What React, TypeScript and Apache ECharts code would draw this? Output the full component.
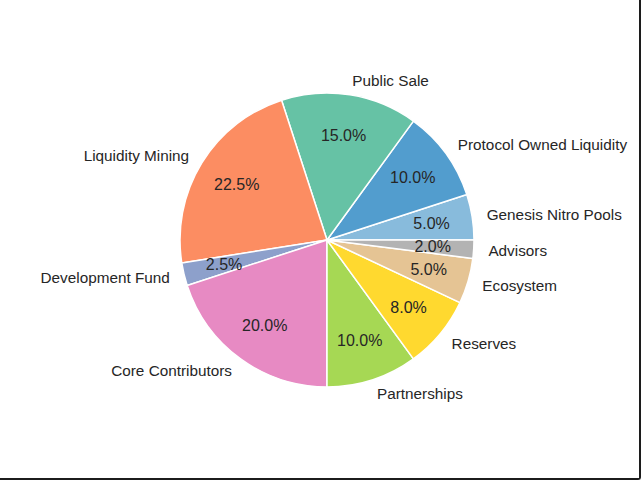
import { useEffect, useRef } from 'react'
import * as echarts from 'echarts'

// slices listed counter-clockwise starting at 3 o'clock
const categories = [
  'Genesis Nitro Pools',
  'Protocol Owned Liquidity',
  'Public Sale',
  'Liquidity Mining',
  'Development Fund',
  'Core Contributors',
  'Partnerships',
  'Reserves',
  'Ecosystem',
  'Advisors',
]
const shares = [5, 10, 15, 22.5, 2.5, 20, 10, 8, 5, 2]
const sliceColors = [
  '#88bbdc',
  '#529dce',
  '#66c2a5',
  '#fc8d62',
  '#8da0cb',
  '#e78ac3',
  '#a6d854',
  '#ffd92f',
  '#e5c494',
  '#b3b3b3',
]

const FONT = '"Liberation Sans", Arial, Helvetica, sans-serif'
const TEXT = '#262626'
const R = 147
const CENTER = [327, 240]

export default function App() {
  const chartRef = useRef<HTMLDivElement>(null)

  useEffect(() => {
    document.body.style.margin = '0'
    if (!chartRef.current) return
    const chart = echarts.init(chartRef.current, null, { renderer: 'svg' })

    const data = categories.map((name, i) => ({
      name,
      value: shares[i],
      itemStyle: { color: sliceColors[i] },
    }))

    chart.setOption({
      animation: false,
      backgroundColor: '#ffffff',
      series: [
        {
          type: 'pie',
          center: CENTER,
          radius: [0, R],
          startAngle: 0,
          clockwise: false,
          avoidLabelOverlap: false,
          silent: true,
          data,
          itemStyle: { borderColor: '#ffffff', borderWidth: 1.5 },
          label: {
            show: true,
            position: 'outside',
            formatter: '{b}',
            fontFamily: FONT,
            fontSize: 15.3,
            color: TEXT,
            distanceToLabelLine: 0,
          },
          labelLine: { show: false, length: R * 0.1, length2: 0 },
        },
        {
          // invisible disc, only used to place the percentage texts at 0.7 r
          type: 'pie',
          center: CENTER,
          radius: [0, R * 1.4],
          startAngle: 0,
          clockwise: false,
          avoidLabelOverlap: false,
          silent: true,
          data: categories.map((name, i) => ({ name, value: shares[i] })),
          itemStyle: { color: 'transparent', borderWidth: 0 },
          label: {
            show: true,
            position: 'inside',
            formatter: (p: any) => `${Number(p.value).toFixed(1)}%`,
            fontFamily: FONT,
            fontSize: 16,
            color: TEXT,
            textBorderWidth: 0,
          },
          labelLine: { show: false },
        },
      ],
    })

    return () => {
      chart.dispose()
    }
  }, [])

  return (
    <div
      style={{
        width: 641,
        height: 480,
        boxSizing: 'border-box',
        borderRight: '2px solid #1c1c1c',
        borderBottom: '2px solid #1c1c1c',
        borderBottomRightRadius: 3,
        overflow: 'hidden',
      }}
    >
      <div ref={chartRef} style={{ width: 639, height: 478 }} />
    </div>
  )
}
